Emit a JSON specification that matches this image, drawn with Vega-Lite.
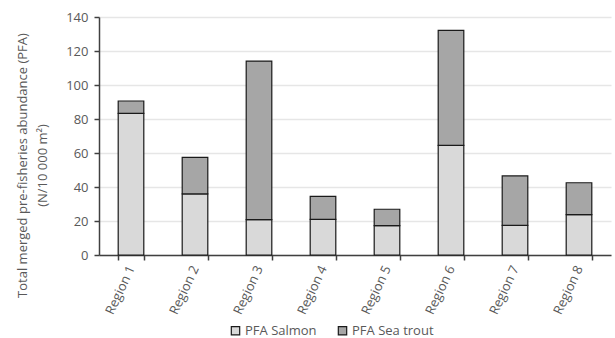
{
  "$schema": "https://vega.github.io/schema/vega-lite/v6.json",
  "autosize": {"type": "none"},
  "width": 512,
  "height": 238,
  "padding": {"left": 99, "top": 17, "right": 4, "bottom": 83},
  "background": "white",
  "config": {
    "font": "Open Sans",
    "view": {"stroke": null}
  },
  "data": {
    "values": [
      {"region": "Region 1", "species": "PFA Salmon", "order": 1, "value": 83.3},
      {"region": "Region 1", "species": "PFA Sea trout", "order": 2, "value": 7.3},
      {"region": "Region 2", "species": "PFA Salmon", "order": 1, "value": 35.9},
      {"region": "Region 2", "species": "PFA Sea trout", "order": 2, "value": 21.5},
      {"region": "Region 3", "species": "PFA Salmon", "order": 1, "value": 20.8},
      {"region": "Region 3", "species": "PFA Sea trout", "order": 2, "value": 93.3},
      {"region": "Region 4", "species": "PFA Salmon", "order": 1, "value": 21.0},
      {"region": "Region 4", "species": "PFA Sea trout", "order": 2, "value": 13.5},
      {"region": "Region 5", "species": "PFA Salmon", "order": 1, "value": 17.3},
      {"region": "Region 5", "species": "PFA Sea trout", "order": 2, "value": 9.6},
      {"region": "Region 6", "species": "PFA Salmon", "order": 1, "value": 64.5},
      {"region": "Region 6", "species": "PFA Sea trout", "order": 2, "value": 67.6},
      {"region": "Region 7", "species": "PFA Salmon", "order": 1, "value": 17.4},
      {"region": "Region 7", "species": "PFA Sea trout", "order": 2, "value": 29.1},
      {"region": "Region 8", "species": "PFA Salmon", "order": 1, "value": 23.7},
      {"region": "Region 8", "species": "PFA Sea trout", "order": 2, "value": 18.8}
    ]
  },
  "mark": {"type": "bar", "stroke": "#1a1a1a", "strokeWidth": 1.2},
  "encoding": {
    "x": {
      "field": "region",
      "type": "nominal",
      "scale": {"paddingInner": 0.6, "paddingOuter": 0.3},
      "axis": {
        "title": null,
        "labelAngle": -65,
        "labelAlign": "right",
        "labelBaseline": "middle",
        "labelFontSize": 13,
        "labelColor": "#595959",
        "labelPadding": 6,
        "domainColor": "#404040",
        "domainWidth": 1.5,
        "tickColor": "#404040",
        "tickWidth": 1.5,
        "tickSize": 5,
        "tickBand": "extent",
        "grid": false
      }
    },
    "y": {
      "field": "value",
      "type": "quantitative",
      "stack": "zero",
      "scale": {"domain": [0, 140], "nice": false},
      "axis": {
        "values": [0, 20, 40, 60, 80, 100, 120, 140],
        "title": ["Total merged  pre-fisheries abundance (PFA)", "(N/10 000 m²)"],
        "titleFontSize": 13,
        "titleFontWeight": "normal",
        "titleColor": "#595959",
        "titlePadding": 16,
        "titleLineHeight": 20,
        "titleY": 148,
        "labelFontSize": 13,
        "labelColor": "#595959",
        "labelPadding": 6,
        "domainColor": "#404040",
        "domainWidth": 1.5,
        "tickColor": "#404040",
        "tickWidth": 1.5,
        "tickSize": 5,
        "gridColor": "#e6e6e6",
        "gridWidth": 1.5
      }
    },
    "color": {
      "field": "species",
      "type": "nominal",
      "scale": {"domain": ["PFA Salmon", "PFA Sea trout"], "range": ["#d9d9d9", "#a6a6a6"]},
      "legend": {
        "title": null,
        "orient": "none",
        "direction": "horizontal",
        "legendX": 130,
        "legendY": 307,
        "symbolType": "square",
        "symbolSize": 70,
        "symbolStrokeColor": "#1a1a1a",
        "symbolStrokeWidth": 1.2,
        "labelFontSize": 13,
        "labelColor": "#595959",
        "columnPadding": 18,
        "labelOffset": 3
      }
    },
    "order": {"field": "order", "type": "quantitative"}
  }
}
